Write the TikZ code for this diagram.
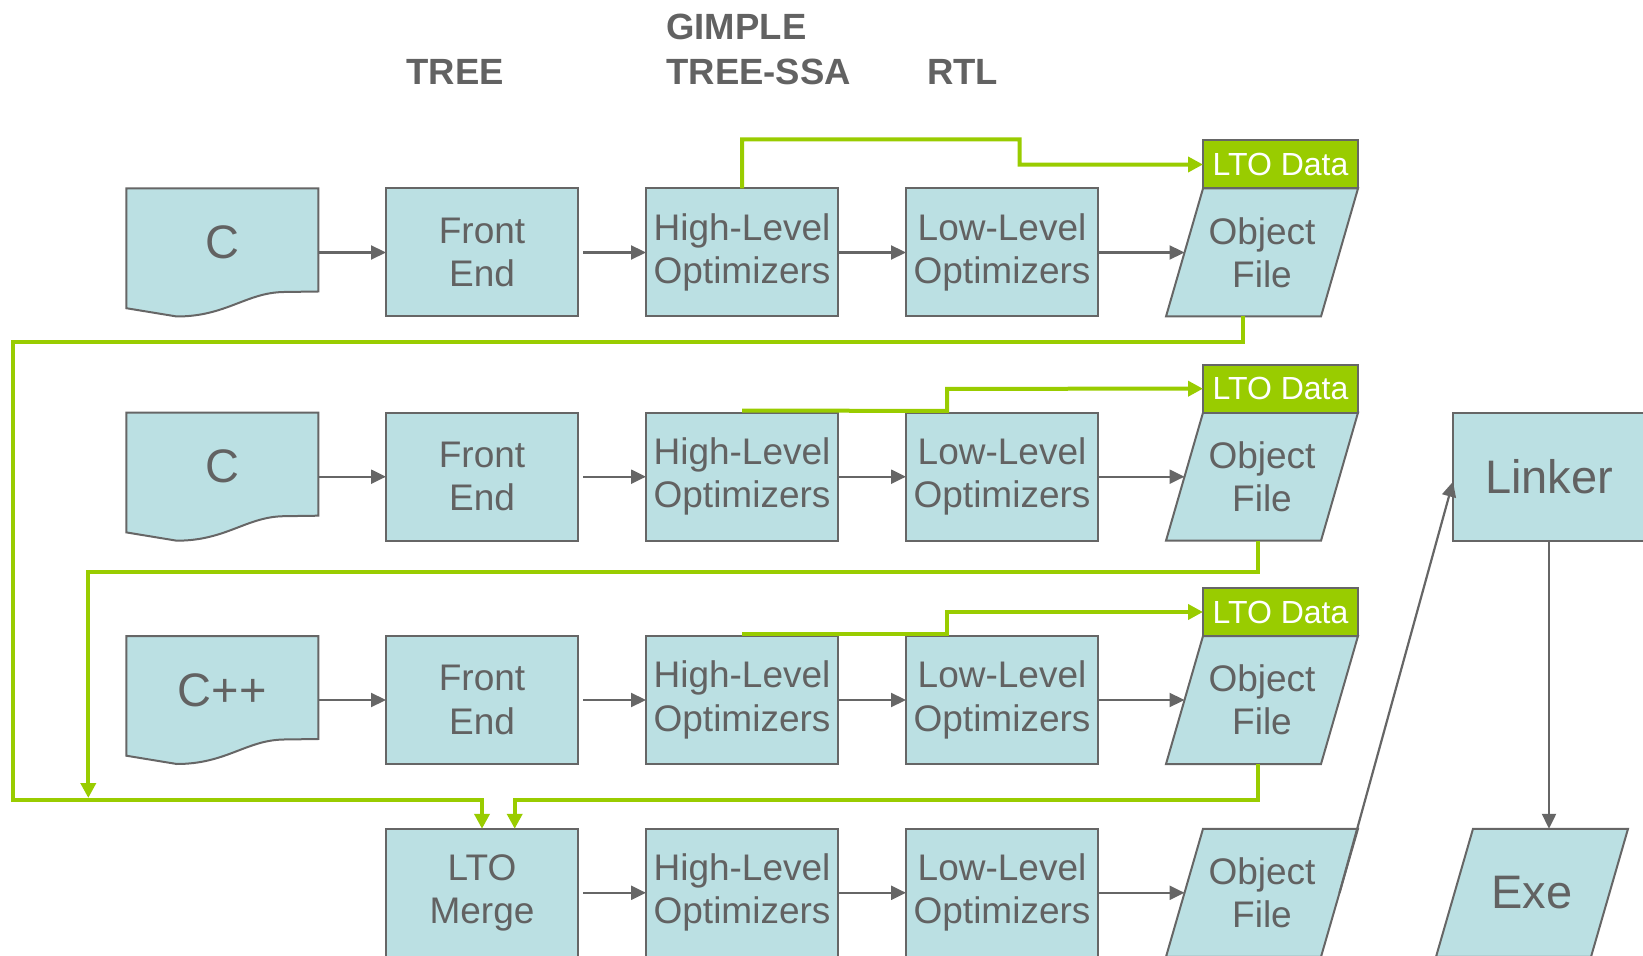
\documentclass[tikz,border=0pt]{standalone}
\usepackage{fontspec}
\setmainfont{Liberation Sans}
\usetikzlibrary{arrows.meta,calc,backgrounds}
\definecolor{bord}{HTML}{666666}
\definecolor{txt}{HTML}{626262}
\definecolor{boxfill}{HTML}{BBE0E3}
\definecolor{ltog}{HTML}{99CC00}
\newcommand\docshape[1]{%
  \draw[shapeline] (#1.north west) -- (#1.north east) -- ($(#1.north east)+(0,103)$)
    -- ($(#1.north west)+(157.7,103.5)$)
    .. controls ($(#1.north west)+(120,104)$) and ($(#1.north west)+(100,128)$) .. ($(#1.north west)+(50.5,128)$)
    -- ($(#1.north west)+(0,119.7)$) -- cycle;}
\newcommand\parashape[1]{%
  \draw[shapeline] ($(#1.north west)+(37,0)$) -- (#1.north east) -- ($(#1.south east)+(-37,0)$) -- (#1.south west) -- cycle;}
\begin{document}
\begin{tikzpicture}[x=0.5pt,y=-0.5pt,
  base/.style={inner sep=0pt, outer sep=0pt, minimum width=96pt, minimum height=64pt, text=txt, align=center, font=\fontsize{18.5}{21.6}\selectfont},
  box/.style={base, draw=bord, fill=boxfill, line width=1pt},
  ghost/.style={base},
  shapeline/.style={draw=bord, fill=boxfill, line width=1pt},
  bigtxt/.style={text=txt, inner sep=0pt, font=\fontsize{23.5}{28}\selectfont},
  ltobox/.style={draw=bord, fill=ltog, line width=1pt, text=white, minimum width=77.5pt, minimum height=24pt, inner sep=0pt, outer sep=0pt, font=\fontsize{16}{19}\selectfont},
  hdr/.style={inner sep=0pt, text=txt, font=\fontsize{18.25}{22}\selectfont\bfseries, anchor=base west},
  flow/.style={draw=bord, line width=1.1pt, -{Triangle[length=7.5pt,width=7pt]}},
  gflow/.style={draw=ltog, line width=2pt, -{Triangle[length=7.5pt,width=7.5pt]}}
]
\useasboundingbox (0,0) rectangle (1643,956);

% headers
\node[hdr] (tree) at (406,85) {TREE};
\node[hdr] (gimple) at (666,40) {GIMPLE};
\node[hdr] (treessa) at (666,85) {TREE-SSA};
\node[hdr] (rtl) at (926.7,85) {RTL};

% row 1
\node[ghost] (c1) at (222.25,252.5) {};
\node[box] (fe1) at (482,252.5) {Front\\End};
\node[box] (hl1) at (742,252.5) {High-Level\\Optimizers};
\node[box] (ll1) at (1002,252.5) {Low-Level\\Optimizers};
\node[ghost] (of1) at (1262,252.5) {Object\\File};
% row 2
\node[ghost] (c2) at (222.25,476.7) {};
\node[box] (fe2) at (482,476.7) {Front\\End};
\node[box] (hl2) at (742,476.7) {High-Level\\Optimizers};
\node[box] (ll2) at (1002,476.7) {Low-Level\\Optimizers};
\node[ghost] (of2) at (1262,476.7) {Object\\File};
% row 3
\node[ghost] (c3) at (222.25,700) {};
\node[box] (fe3) at (482,700) {Front\\End};
\node[box] (hl3) at (742,700) {High-Level\\Optimizers};
\node[box] (ll3) at (1002,700) {Low-Level\\Optimizers};
\node[ghost] (of3) at (1262,700) {Object\\File};
% row 4
\node[box] (lm) at (482,892.8) {LTO\\Merge};
\node[box] (hl4) at (742,892.8) {High-Level\\Optimizers};
\node[box] (ll4) at (1002,892.8) {Low-Level\\Optimizers};
\node[ghost] (of4) at (1262,892.8) {Object\\File};
% linker / exe
\node[box, bigtxt, minimum width=96pt, minimum height=64pt] (linker) at (1549,476.7) {Linker};
\node[ghost, bigtxt, minimum width=96pt, minimum height=64pt] (exe) at (1532,892.8) {Exe};

% document texts
\node[bigtxt] (c1t) at ($(c1.center)+(0,-10)$) {C};
\node[bigtxt] (c2t) at ($(c2.center)+(0,-10)$) {C};
\node[bigtxt] (c3t) at ($(c3.center)+(0,-10)$) {C++};

\begin{scope}[on background layer]
  \docshape{c1}\docshape{c2}\docshape{c3}
  \parashape{of1}\parashape{of2}\parashape{of3}\parashape{of4}\parashape{exe}
\end{scope}

% LTO data boxes
\node[ltobox, anchor=south east] (lto1) at (of1.north east) {LTO Data};
\node[ltobox, anchor=south east] (lto2) at (of2.north east) {LTO Data};
\node[ltobox, anchor=south east] (lto3) at (of3.north east) {LTO Data};

% named coordinates
\coordinate (of1in) at ($(of1.west)+(18.5,0)$);
\coordinate (of2in) at ($(of2.west)+(18.5,0)$);
\coordinate (of3in) at ($(of3.west)+(18.5,0)$);
\coordinate (of4in) at ($(of4.west)+(18.5,0)$);
\coordinate (of4out) at ($(of4.east)+(-18.5,0)$);
\coordinate (of1out) at ($(of1.south)+(-19,0)$);
\coordinate (of2out) at ($(of2.south)+(-4,0)$);
\coordinate (of3out) at ($(of3.south)+(-4,0)$);
\coordinate (lmin2) at ($(lm.north)+(32.7,0)$);
\coordinate (join) at (88.3,798);

% gray flow
\foreach \r in {1,2,3}{
  \draw[flow] (c\r.east) -- (fe\r.west);
  \draw[flow, shorten <=2.5pt] (fe\r.east) -- (hl\r.west);
  \draw[flow] (hl\r.east) -- (ll\r.west);
  \draw[flow] (ll\r.east) -- (of\r in);
}
\draw[flow, shorten <=2.5pt] (lm.east) -- (hl4.west);
\draw[flow] (hl4.east) -- (ll4.west);
\draw[flow] (ll4.east) -- (of4in);
\draw[flow] (of4out) -- ($(linker.west)+(0,5)$);
\draw[flow] (linker.south) -- (linker.south |- exe.north);

% green flow
\draw[gflow] (hl1.north) -- (742,139.5) -- (1019.5,139.5) -- (1019.5,164.6) -- (lto1.west);
\draw[gflow] ($(hl2.north)+(0,-2)$) -- (947,410.8) -- (947,388.8) -- (lto2.west);
\draw[gflow] ($(hl3.north)+(0,-2)$) -- (947,634) -- (947,612) -- (lto3.west);
\draw[gflow] (of1out) -- (1243,341.6) -- (13.3,341.6) -- (13.3,800) -- (482,800) -- (lm.north);
\draw[gflow] (of2out) -- (1258,571.7) -- (88.3,571.7) -- (join);
\draw[gflow] (of3out) -- (1258,800) -- (514.7,800) -- (lmin2);
\end{tikzpicture}
\end{document}
